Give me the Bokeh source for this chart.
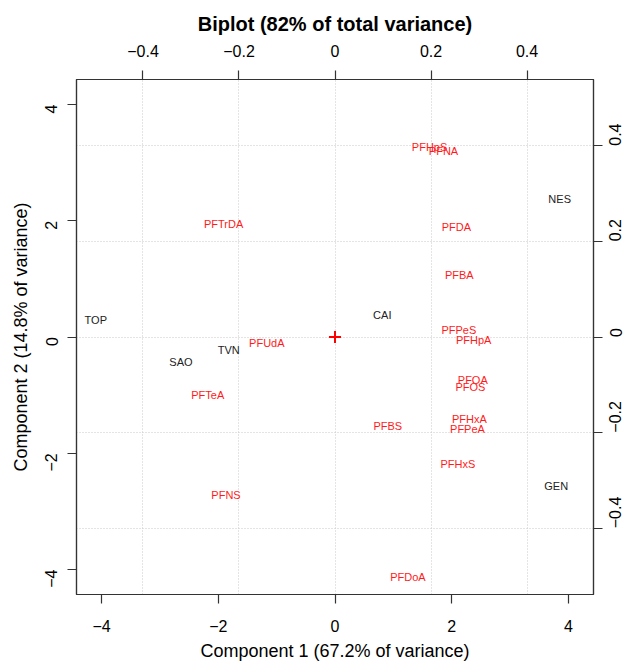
import math
from bokeh.plotting import figure
from bokeh.models import (ColumnDataSource, Range1d, LinearAxis, FixedTicker, Grid)
from bokeh.core.properties import value
from bokeh.embed import file_html
from bokeh.resources import INLINE

# ---- data ----
sites = ["TOP", "TVN", "SAO", "CAI", "NES", "GEN"]
site_pc1 = [-4.10, -1.82, -2.64, 0.81, 3.85, 3.79]
site_pc2 = [0.30, -0.22, -0.43, 0.38, 2.38, -2.56]

variables = ["PFHpS", "PFNA", "PFTrDA", "PFDA", "PFBA", "PFPeS", "PFHpA", "PFUdA",
             "PFOA", "PFOS", "PFTeA", "PFHxA", "PFPeA", "PFBS", "PFHxS", "PFNS", "PFDoA"]
load_pc1 = [0.197, 0.226, -0.232, 0.253, 0.259, 0.258, 0.289, -0.142,
            0.287, 0.282, -0.265, 0.280, 0.276, 0.110, 0.256, -0.227, 0.152]
load_pc2 = [0.397, 0.389, 0.237, 0.231, 0.130, 0.014, -0.007, -0.013,
            -0.089, -0.104, -0.122, -0.171, -0.193, -0.186, -0.265, -0.331, -0.502]

score_ticks = [-4, -2, 0, 2, 4]
load_ticks = [-0.4, -0.2, 0.0, 0.2, 0.4]

title_text = "Biplot (82% of total variance)"
xlab = "Component 1 (67.2% of variance)"
ylab = "Component 2 (14.8% of variance)"

FONT = "Liberation Sans"
SCORE_LIM = 4.43
LOAD_LIM = 0.5385

p = figure(width=633, height=663, output_backend="svg", toolbar_location=None,
           x_range=Range1d(-SCORE_LIM, SCORE_LIM), y_range=Range1d(-SCORE_LIM, SCORE_LIM),
           min_border_left=76, min_border_right=40, min_border_top=79, min_border_bottom=67)
p.extra_x_ranges = {"lx": Range1d(-LOAD_LIM, LOAD_LIM)}
p.extra_y_ranges = {"ly": Range1d(-LOAD_LIM, LOAD_LIM)}

p.xgrid.visible = False
p.ygrid.visible = False
p.outline_line_color = "#333333"
p.outline_line_width = 1.2
p.background_fill_color = "white"
p.border_fill_color = "white"

def style_axis(ax, ticks, vertical=False, standoff=12):
    ax.ticker = FixedTicker(ticks=ticks)
    ax.minor_tick_line_color = None
    ax.major_tick_in = 0
    ax.major_tick_out = 9
    ax.major_tick_line_color = "#333333"
    ax.major_tick_line_width = 1.2
    ax.axis_line_color = "#333333"
    ax.axis_line_width = 1.2
    ax.major_label_text_font = FONT
    ax.major_label_text_font_size = "16px"
    ax.major_label_text_color = "black"
    ax.major_label_standoff = standoff
    if vertical:
        ax.major_label_orientation = math.pi / 2
    ax.axis_label_text_font = FONT
    ax.axis_label_text_font_style = "normal"
    ax.axis_label_text_font_size = "18px"
    ax.axis_label_text_color = "black"

# bottom / left (scores)
style_axis(p.xaxis[0], score_ticks, standoff=16)
p.xaxis[0].axis_label = xlab
p.xaxis[0].axis_label_standoff = 6
style_axis(p.yaxis[0], score_ticks, vertical=True, standoff=16)
p.yaxis[0].axis_label = ylab
p.yaxis[0].axis_label_standoff = 6

# top / right (loadings)
top_ax = LinearAxis(x_range_name="lx")
style_axis(top_ax, load_ticks, standoff=14)
top_ax.axis_label = title_text
top_ax.axis_label_text_font_style = "bold"
top_ax.axis_label_text_font_size = "20px"
top_ax.axis_label_standoff = 7
p.add_layout(top_ax, "above")

right_ax = LinearAxis(y_range_name="ly")
style_axis(right_ax, load_ticks, vertical=True, standoff=13)
p.add_layout(right_ax, "right")

# dotted grid at loading ticks
gx = Grid(dimension=0, ticker=FixedTicker(ticks=load_ticks), x_range_name="lx",
          grid_line_color="#c8c8c8", grid_line_dash="1 2", grid_line_width=1)
gy = Grid(dimension=1, ticker=FixedTicker(ticks=load_ticks), y_range_name="ly",
          grid_line_color="#c8c8c8", grid_line_dash="1 2", grid_line_width=1)
p.add_layout(gx)
p.add_layout(gy)

site_src = ColumnDataSource(dict(x=site_pc1, y=site_pc2, name=sites))
load_src = ColumnDataSource(dict(x=load_pc1, y=load_pc2, name=variables))

p.text(x="x", y="y", text="name", source=site_src, text_color="#222222",
       text_font=value(FONT), text_font_size="11px",
       text_align="center", text_baseline="middle")
p.text(x="x", y="y", text="name", source=load_src, text_color="#ff1a1a",
       text_font=value(FONT), text_font_size="11px",
       text_align="center", text_baseline="middle",
       x_range_name="lx", y_range_name="ly")

p.scatter(x=[0], y=[0], marker="cross", size=12, line_color="#ff0000", line_width=2)

open("out.html", "w").write(file_html(p, INLINE))
